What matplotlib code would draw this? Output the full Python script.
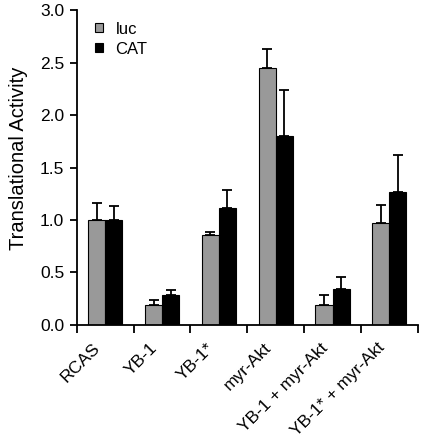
import numpy as np
import matplotlib.pyplot as plt

plt.rcParams['font.family'] = ['Liberation Sans', 'DejaVu Sans']

groups = ['RCAS', 'YB-1', 'YB-1*', 'myr-Akt', 'YB-1 + myr-Akt', 'YB-1* + myr-Akt']
luc = [1.00, 0.19, 0.86, 2.45, 0.19, 0.97]
luc_top = [1.16, 0.24, 0.89, 2.63, 0.28, 1.14]
cat = [1.00, 0.28, 1.11, 1.80, 0.34, 1.27]
cat_top = [1.13, 0.33, 1.29, 2.24, 0.46, 1.62]

luc = np.array(luc)
cat = np.array(cat)
luc_err = np.array(luc_top) - luc
cat_err = np.array(cat_top) - cat

fig = plt.figure(figsize=(4.22, 4.42), dpi=100)
ax = fig.add_axes([0.182, 0.265, 0.808, 0.712])

x = np.arange(len(groups)) + 0.5
w = 0.3
ekw = dict(elinewidth=1.3, capthick=1.3)
ax.bar(x - w / 2, luc, w, color='#999999', edgecolor='black', linewidth=0.8,
       yerr=[np.zeros_like(luc_err), luc_err], capsize=3.5, error_kw=ekw, label='luc')
ax.bar(x + w / 2, cat, w, color='black', edgecolor='black', linewidth=0.8,
       yerr=[np.zeros_like(cat_err), cat_err], capsize=3.5, error_kw=ekw, label='CAT')

ax.set_xlim(0, len(groups))
ax.set_ylim(0, 3.0)
ax.set_yticks(np.arange(0, 3.01, 0.5))
ax.set_yticklabels(['%.1f' % v for v in np.arange(0, 3.01, 0.5)], fontsize=12.5)
ax.set_xticks(np.arange(len(groups) + 1))
ax.set_xticklabels([])
ax.set_xticks(x - 0.22, minor=True)
ax.set_xticklabels(groups, minor=True, rotation=45, ha='right', va='top',
                   rotation_mode='anchor', fontsize=12.5)
ax.tick_params(axis='x', which='minor', length=0, pad=11)
ax.tick_params(axis='x', which='major', length=6, width=1.3)
ax.tick_params(axis='y', length=5, width=1.3, pad=4)

for side in ['top', 'right']:
    ax.spines[side].set_visible(False)
for side in ['left', 'bottom']:
    ax.spines[side].set_linewidth(1.3)

ax.set_ylabel('Translational Activity', fontsize=14.5)
ax.yaxis.set_label_coords(-0.143, 0.53)

ax.legend(loc='upper left', bbox_to_anchor=(0.035, 0.985), borderaxespad=0,
          frameon=False, fontsize=12, handlelength=0.45, handleheight=0.45,
          handletextpad=0.75, labelspacing=0.3)

fig.savefig('out.png', dpi=100)
